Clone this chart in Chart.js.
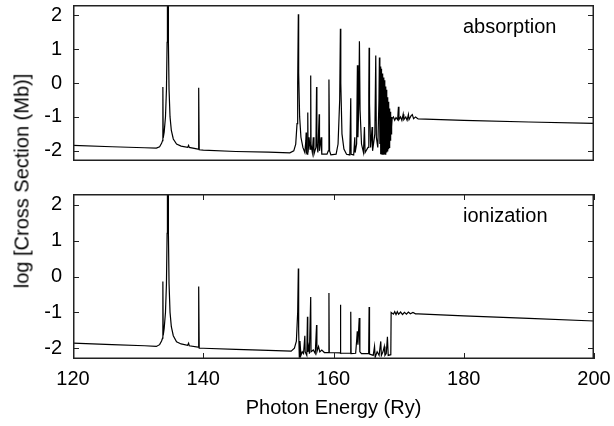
<!DOCTYPE html>
<html>
<head>
<meta charset="utf-8">
<script src="https://cdn.jsdelivr.net/npm/chart.js@4"></script>
<style>
  html, body { margin: 0; padding: 0; background: #fff; }
  #wrap { position: relative; width: 614px; height: 426px; font-family: 'Liberation Sans', Arial, sans-serif; }
  #top { position: absolute; left: 0; top: 0; }
  #bottom { position: absolute; left: 0; top: 189px; }
  #ytitle {
    position: absolute; left: 22px; top: 181px;
    transform: translate(-50%, -50%) rotate(-90deg);
    white-space: nowrap; font-size: 20px; color: #000;
  }
</style>
</head>
<body>
<div id="wrap">
  <canvas id="top" width="614" height="166"></canvas>
  <canvas id="bottom" width="614" height="237"></canvas>
  <div id="ytitle">log [Cross Section (Mb)]</div>
</div>
<script>
"use strict";

/* ============================================================
   DATA
============================================================ */
const xTicks = [120, 140, 160, 180, 200];
const yTicks = [-2, -1, 0, 1, 2];

const absEnergy = [
  120, 126, 131, 132.8, 133.3, 133.6, 133.75, 133.8, 133.85, 134.0,
  134.2, 134.35, 134.45, 134.5, 134.6, 134.65, 134.75, 134.9, 135.1, 135.4,
  135.9, 136.6, 137.6, 137.75, 137.85, 139.2, 139.3, 139.38, 140, 145,
  150, 153.3, 153.9, 154.2, 154.4, 154.5, 154.6, 154.65, 154.8, 155.0,
  155.3, 155.6, 155.75, 155.8, 155.85, 155.95, 156.05, 156.1, 156.25, 156.4,
  156.5, 156.55, 156.75, 156.9, 157.0, 157.3, 157.4, 157.45, 157.6, 157.8,
  157.85, 158.1, 158.2, 159.0, 159.2, 159.3, 159.4, 159.6, 160.4, 160.7,
  160.95, 161.06, 161.12, 161.3, 161.6, 162.0, 162.5, 162.65, 162.7, 163.1,
  163.27, 163.32, 163.55, 163.67, 163.75, 163.9, 163.98, 164.08, 164.3, 164.6,
  164.75, 164.85, 165.3, 165.42, 165.47, 165.53, 165.7, 165.93, 166.0, 166.35,
  166.49, 166.58, 166.8, 166.98, 167.05, 167.12,
  167.2, 167.25, 167.3, 167.35, 167.4, 167.45, 167.5, 167.55, 167.6, 167.65,
  167.7, 167.75, 167.8, 167.85, 167.9, 167.95, 168.0, 168.05, 168.1, 168.15,
  168.2, 168.25, 168.3, 168.35, 168.4, 168.45, 168.5, 168.55, 168.6, 168.65,
  168.7, 168.75, 168.8, 168.85, 168.9, 168.95, 169.0,
  169.2, 169.4, 169.6, 169.85, 169.97, 170.05, 170.3, 170.5, 170.7, 170.8,
  171.1, 171.3, 171.5, 171.6, 171.9, 172.1, 172.3, 172.6, 173.0, 180,
  190, 200
];
const absLog = [
  -1.84, -1.88, -1.91, -1.92, -1.88, -1.78, -1.7, -0.12, -1.62, -1.45,
  -1.0, -0.2, 1.2, 2.5, 2.5, 1.2, -0.2, -1.0, -1.4, -1.65,
  -1.8, -1.86, -1.9, -1.84, -1.9, -1.95, -0.14, -1.97, -1.98, -2.02,
  -2.04, -2.06, -2.0, -1.8, -1.2, 0.0, 2.03, 0.3, -1.0, -1.6,
  -1.9, -2.05, -1.7, -1.46, -2.05, -2.1, -0.87, -2.05, -1.6, -1.95,
  0.22, -1.8, -2.05, -1.6, -2.1, -1.9, -0.12, -1.8, -2.05, -0.92,
  -2.0, -1.6, -2.1, -2.1, -2.0, 0.1, -2.0, -2.12, -2.1, -1.8,
  -0.5, 1.6, 0.0, -1.5, -1.95, -2.1, -2.12, -0.45, -2.1, -2.12,
  -1.6, -2.05, -1.8, 0.52, -1.6, -0.5, 1.23, -0.8, -1.8, -2.05,
  -1.3, -2.05, -1.9, -0.3, 1.04, -0.6, -1.9, -1.3, -2.0, -1.5,
  0.81, -1.6, -1.9, -0.5, 0.75, -1.8,
  0.49, -2.1, 0.42, -2.1, 0.35, -2.1, 0.28, -2.1, 0.22, -2.1,
  0.16, -2.1, 0.08, -2.1, 0.0, -2.1, -0.1, -2.05, -0.2, -2.05,
  -0.32, -2.0, -0.42, -2.0, -0.55, -1.95, -0.65, -1.9, -0.75, -1.8,
  -0.85, -1.7, -0.92, -1.5, -1.0, -1.3, -1.05,
  -1.0, -1.1, -1.02, -1.08, -0.7, -1.08, -1.0, -1.1, -0.92, -1.08,
  -1.0, -1.1, -0.93, -1.08, -0.97, -0.93, -1.05, -1.0, -1.06, -1.1,
  -1.15, -1.19
];

const ionEnergy = [
  120, 126, 131, 132.8, 133.3, 133.6, 133.75, 133.8, 133.85, 134.0,
  134.2, 134.35, 134.45, 134.5, 134.6, 134.65, 134.75, 134.9, 135.1, 135.4,
  135.9, 136.6, 137.6, 137.75, 137.85, 139.2, 139.3, 139.38, 140, 145,
  150, 153.5, 154.0, 154.3, 154.5, 154.6, 154.65, 154.75, 154.85, 155.0,
  155.2, 155.4, 155.6, 155.65, 155.9, 156.0, 156.05, 156.2, 156.3, 156.5,
  156.55, 156.9, 157.2, 157.4, 157.45, 157.7, 157.9, 158.2, 158.6, 159.2,
  159.3, 159.35, 161.0, 161.06, 161.12, 162.6, 162.65, 162.7, 163.4, 163.55,
  163.65, 163.75, 163.95, 164.05, 164.3, 165.4, 165.47, 165.53, 166.1, 166.3,
  166.4, 166.7, 167.0, 167.26, 167.35, 167.6, 167.8, 167.9, 168.1, 168.28,
  168.4, 168.8, 168.85, 169.2, 169.4, 169.6, 169.8, 170.0, 170.3, 170.6,
  170.9, 171.2, 171.5, 171.8, 172.2, 172.6, 173, 180, 190, 200
];
const ionLog = [
  -1.86, -1.9, -1.93, -1.95, -1.9, -1.8, -1.72, -0.14, -1.64, -1.45,
  -1.0, -0.2, 1.2, 2.5, 2.5, 1.2, -0.2, -1.0, -1.4, -1.65,
  -1.82, -1.88, -1.92, -1.86, -1.93, -1.97, -0.28, -2.0, -2.0, -2.03,
  -2.06, -2.08, -2.0, -1.8, -1.0, 0.22, -1.5, -2.25, -1.8, -2.2,
  -2.1, -2.15, -1.65, -2.1, -2.2, -1.12, -2.1, -1.95, -2.15, -0.57,
  -2.1, -2.05, -2.15, -1.35, -2.1, -1.95, -2.1, -2.05, -2.12, -2.12,
  -0.46, -2.12, -2.13, -0.79, -2.14, -2.14, -0.98, -2.15, -2.14, -1.8,
  -1.53, -1.9, -1.16, -2.1, -2.15, -2.15, -0.85, -2.16, -2.2, -1.95,
  -2.25, -2.1, -2.2, -1.81, -2.2, -2.1, -1.95, -2.2, -2.15, -1.68,
  -2.2, -2.18, -1.0, -1.05, -0.98, -1.06, -0.98, -1.05, -0.99, -1.06,
  -1.0, -1.05, -0.99, -1.04, -1.0, -1.04, -1.04, -1.1, -1.17, -1.24
];

/* ============================================================
   HELPERS
============================================================ */
const FONT = "'Liberation Sans', Arial, sans-serif";
Chart.defaults.font.family = FONT;
Chart.defaults.font.size = 20;
Chart.defaults.color = '#000';

function toPoints(xs, ys) {
  return xs.map((x, i) => ({ x, y: ys[i] }));
}

// gnuplot-like frame with inward, mirrored ticks plus the panel label
const framePlugin = {
  id: 'frame',
  afterDraw(chart, args, opts) {
    const { ctx, chartArea: a, scales } = chart;
    const len = 6;
    const w = 1.5;
    const L = Math.round(a.left), R = Math.round(a.right);
    const T = Math.round(a.top), B = Math.round(a.bottom);
    ctx.save();
    ctx.fillStyle = '#222';
    // frame
    ctx.fillRect(L, T, R - L, w);
    ctx.fillRect(L, B - w, R - L, w);
    ctx.fillRect(L, T, w, B - T);
    ctx.fillRect(R - w, T, w, B - T);
    // y ticks, left and right
    yTicks.forEach(v => {
      const py = Math.round(scales.y.getPixelForValue(v));
      ctx.fillRect(L, py, len, 1);
      ctx.fillRect(R - len, py, len, 1);
    });
    // x ticks, bottom and top
    if (opts.xTicks) {
      xTicks.forEach(v => {
        const px = Math.round(scales.x.getPixelForValue(v));
        ctx.fillRect(px, T, 1, len);
        ctx.fillRect(px, B - len, 1, len);
      });
    }
    if (opts.label) {
      ctx.fillStyle = '#000';
      ctx.font = '20px ' + FONT;
      ctx.textBaseline = 'middle';
      ctx.textAlign = 'left';
      ctx.fillText(opts.label, L + 390, T + 22);
    }
    ctx.restore();
  }
};

function makeChart(id, xs, ys, label, showX) {
  return new Chart(document.getElementById(id), {
    type: 'line',
    data: {
      datasets: [{
        data: toPoints(xs, ys),
        borderColor: '#000',
        borderWidth: 1.2,
        pointRadius: 0,
        tension: 0,
        clip: 0
      }]
    },
    options: {
      responsive: false,
      animation: false,
      events: [],
      layout: { padding: { top: 5, right: 20, bottom: showX ? 0 : 5, left: 0 } },
      plugins: {
        legend: { display: false },
        tooltip: { enabled: false },
        frame: { label, xTicks: showX }
      },
      scales: {
        x: {
          type: 'linear',
          min: 120, max: 200,
          display: showX,
          afterBuildTicks: s => { s.ticks = xTicks.map(v => ({ value: v })); },
          afterFit: s => {
            s.paddingLeft = 0; s.paddingRight = 0;
            if (showX) s.height = 67;
          },
          grid: { display: false, drawTicks: false },
          border: { display: false },
          ticks: { padding: 8, maxRotation: 0, autoSkip: false },
          title: { display: true, text: 'Photon Energy (Ry)', padding: { top: 0, bottom: 6 } }
        },
        y: {
          min: -2.3, max: 2.3,
          afterBuildTicks: s => { s.ticks = yTicks.map(v => ({ value: v })); },
          afterFit: s => {
            s.width = 73;
            s.paddingTop = 0; s.paddingBottom = 0;
          },
          grid: { display: false, drawTicks: false },
          border: { display: false },
          ticks: { padding: 11, autoSkip: false }
        }
      }
    },
    plugins: [framePlugin]
  });
}

makeChart('top', absEnergy, absLog, 'absorption', false);
makeChart('bottom', ionEnergy, ionLog, 'ionization', true);
</script>
</body>
</html>
